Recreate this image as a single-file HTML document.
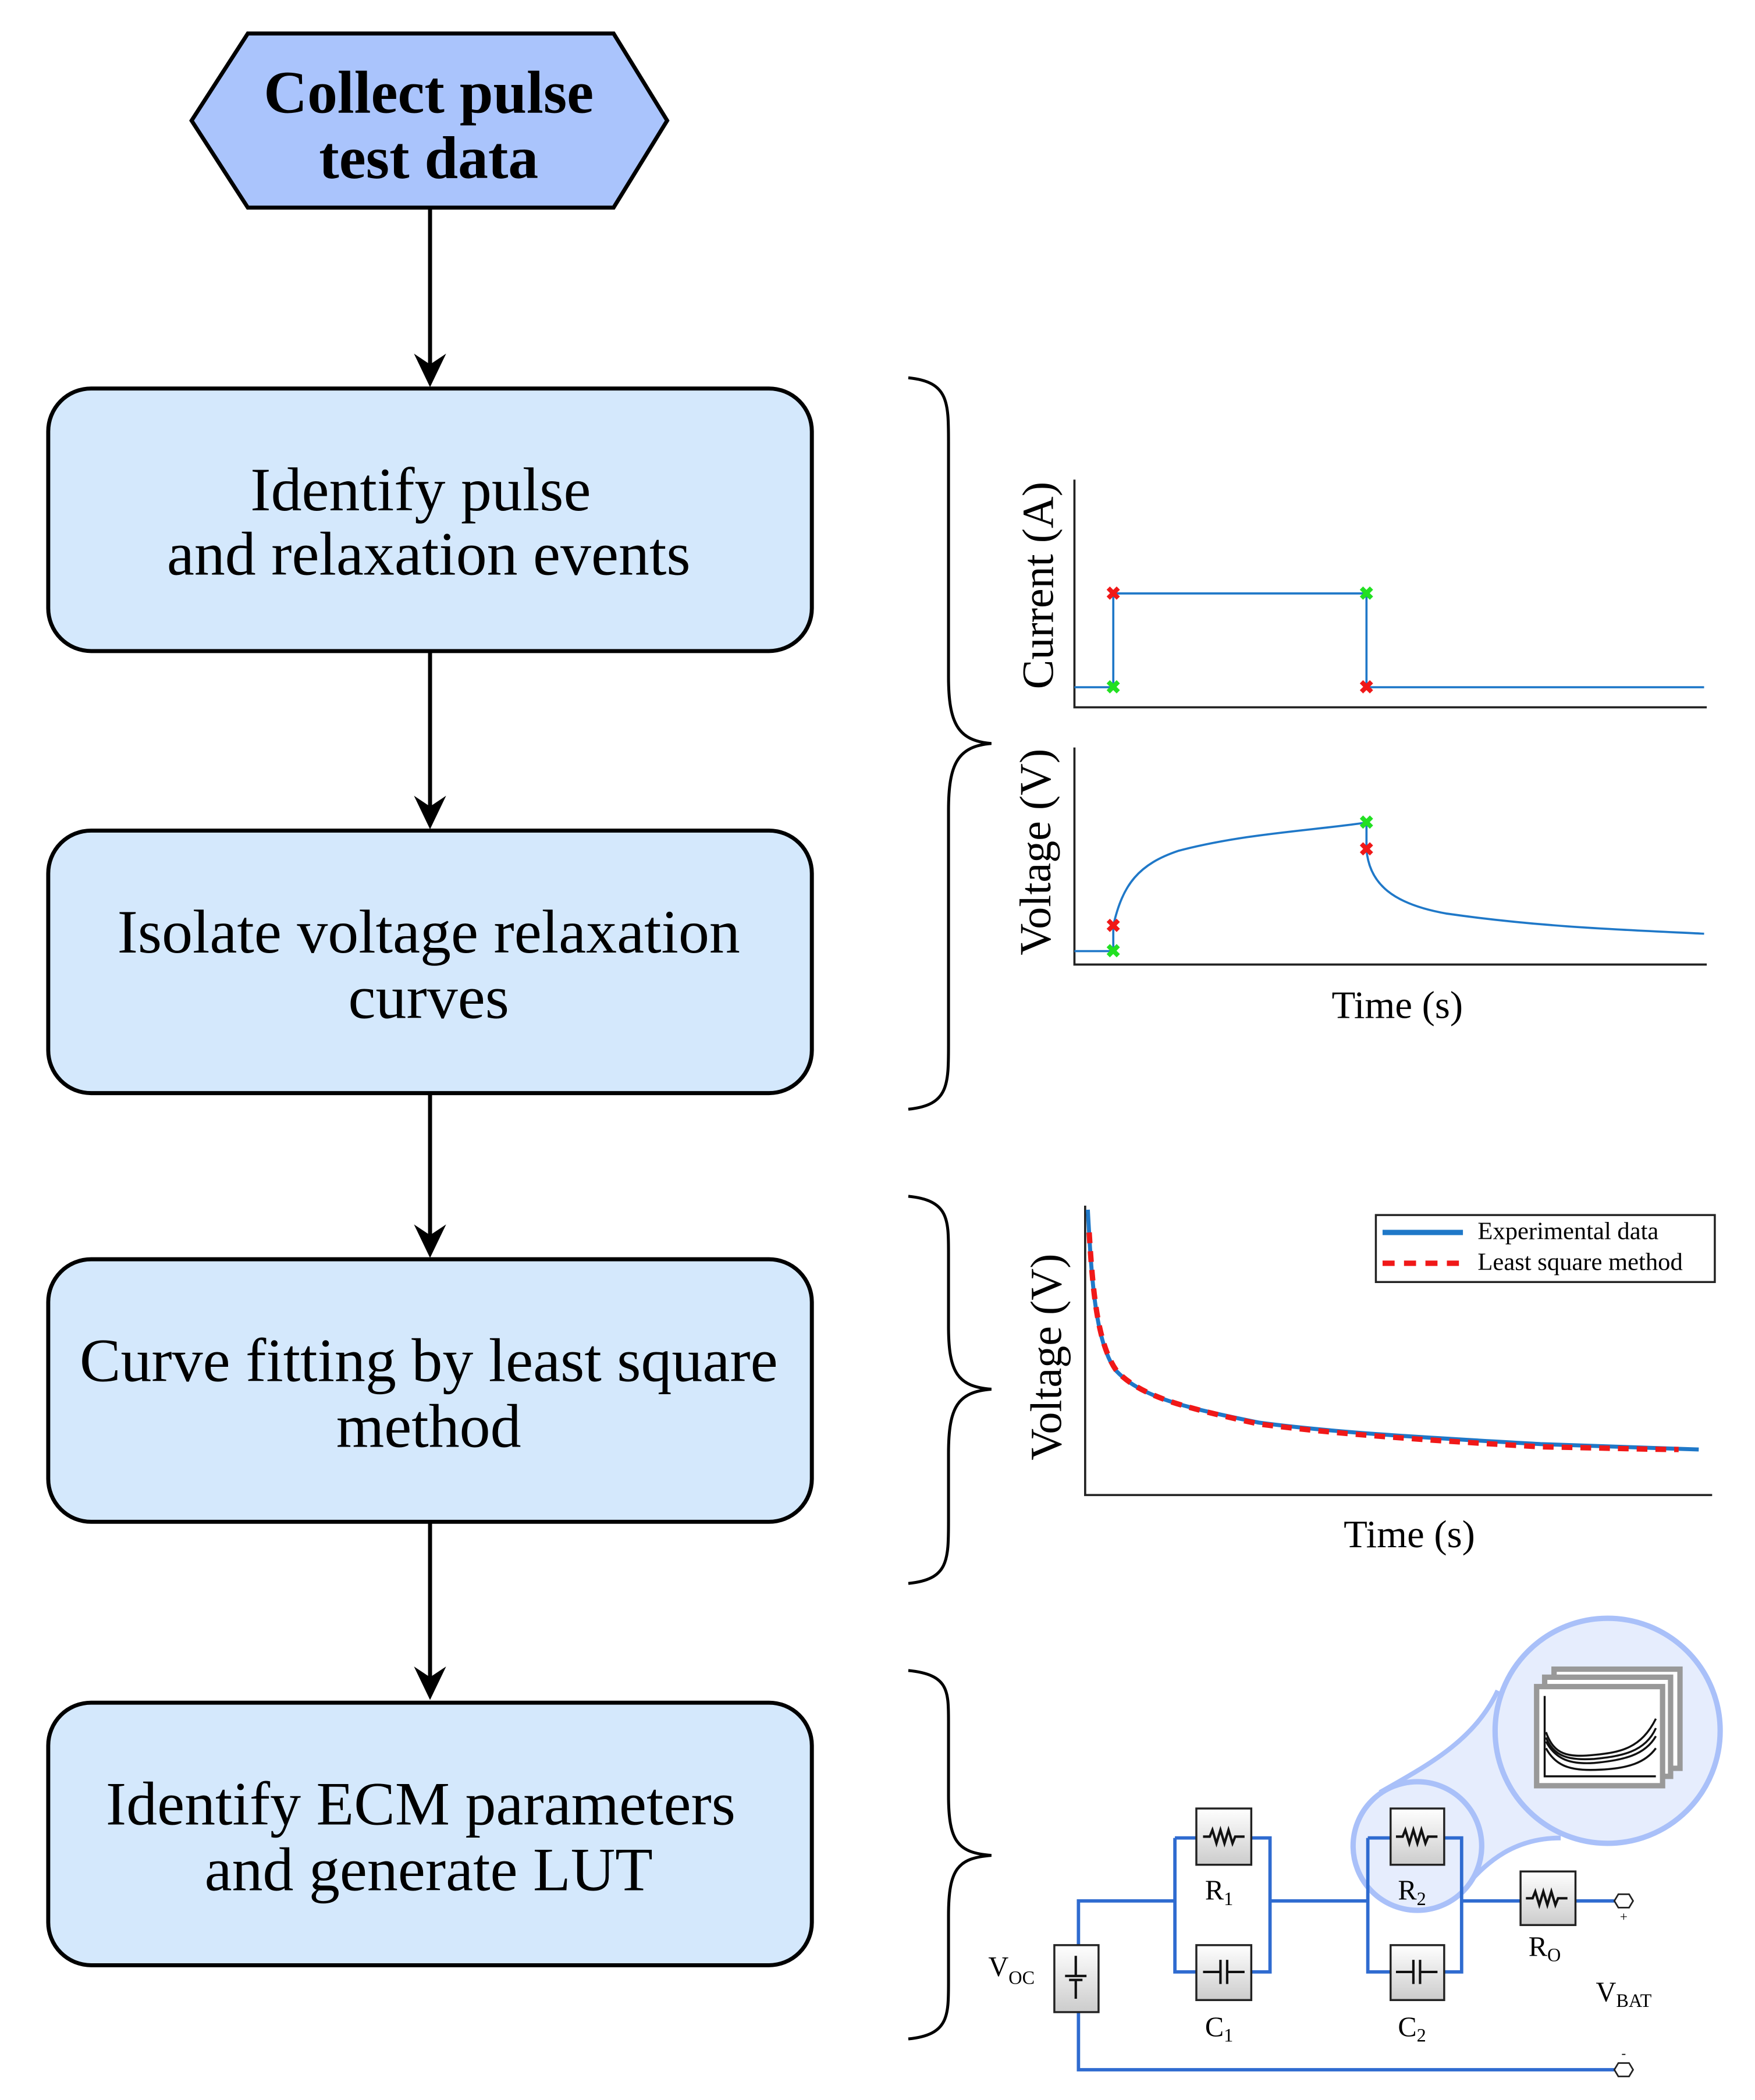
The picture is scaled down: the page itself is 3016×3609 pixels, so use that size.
<!DOCTYPE html>
<html><head><meta charset="utf-8"><style>
html,body{margin:0;padding:0;background:#fff}
svg{display:block}
text{font-family:"Liberation Serif",serif}
</style></head><body>
<svg width="3016" height="3609" viewBox="0 0 1310 1567.6" preserveAspectRatio="none" xmlns="http://www.w3.org/2000/svg">
<polygon points="143,90 185,25 458,25 498,90 458,155 185,155" fill="#aac4fc" stroke="#000" stroke-width="3"/>
<text x="320" y="84" font-size="45" font-weight="bold" text-anchor="middle">Collect pulse</text>
<text x="320" y="133" font-size="45" font-weight="bold" text-anchor="middle">test data</text>
<g stroke="#000" stroke-width="3">
<line x1="321" y1="155" x2="321" y2="280"/>
<line x1="321" y1="486" x2="321" y2="610"/>
<line x1="321" y1="816" x2="321" y2="930"/>
<line x1="321" y1="1136" x2="321" y2="1260"/>
</g>
<g fill="#000">
<path d="M321,289 L309,264 L321,272 L333,264 Z"/>
<path d="M321,619 L309,594 L321,602 L333,594 Z"/>
<path d="M321,939 L309,914 L321,922 L333,914 Z"/>
<path d="M321,1269 L309,1244 L321,1252 L333,1244 Z"/>
</g>
<g fill="#d4e8fc" stroke="#000" stroke-width="3">
<rect x="36" y="290" width="570" height="196" rx="32"/>
<rect x="36" y="620" width="570" height="196" rx="32"/>
<rect x="36" y="940" width="570" height="196" rx="32"/>
<rect x="36" y="1271" width="570" height="196" rx="32"/>
</g>
<g font-size="46" text-anchor="middle">
<text x="314" y="381">Identify pulse</text>
<text x="320" y="429">and relaxation events</text>
<text x="320" y="711">Isolate voltage relaxation</text>
<text x="320" y="760">curves</text>
<text x="320" y="1031">Curve fitting by least square</text>
<text x="320" y="1080">method</text>
<text x="314" y="1362">Identify ECM parameters</text>
<text x="320" y="1411">and generate LUT</text>
</g>
<g fill="none" stroke="#000" stroke-width="2.2">
<path d="M678,282 C708,285 708,300 708,330 L708,505 C708,540 715,553 740,555 C715,557 708,570 708,605 L708,780 C708,810 708,825 678,828"/>
<path d="M678,893 C708,896 708,910 708,935 L708,990 C708,1025 715,1035 740,1037 C715,1039 708,1050 708,1085 L708,1135 C708,1165 708,1179 678,1182"/>
<path d="M678,1247 C708,1250 708,1262 708,1285 L708,1340 C708,1375 715,1383 740,1385 C715,1387 708,1395 708,1430 L708,1480 C708,1505 708,1519 678,1522"/>
</g>
<g stroke="#222" stroke-width="1.6" fill="none">
<path d="M802,358 L802,528 L1274,528"/>
<path d="M802,558 L802,720 L1274,720"/>
<path d="M810,900 L810,1116 L1278,1116"/>
</g>
<path d="M802,513 L831,513 L831,443 L1020,443 L1020,513 L1272,513" fill="none" stroke="#1f78c8" stroke-width="1.6"/>
<path d="M802,710 L831,710 L831,691 C838,660 850,645 880,635 C930,622 980,620 1020,614 L1020,634 C1022,660 1040,675 1080,682 C1150,692 1210,694 1272,697" fill="none" stroke="#1f78c8" stroke-width="1.6"/>
<g font-size="14" font-weight="bold" text-anchor="middle" dominant-baseline="central">
<text x="831" y="513" fill="#22e022">✖</text>
<text x="1020" y="443" fill="#22e022">✖</text>
<text x="831" y="443" fill="#f01818">✖</text>
<text x="1020" y="513" fill="#f01818">✖</text>
<text x="831" y="710" fill="#22e022">✖</text>
<text x="1020" y="614" fill="#22e022">✖</text>
<text x="831" y="691" fill="#f01818">✖</text>
<text x="1020" y="634" fill="#f01818">✖</text>
</g>
<text transform="translate(786,437) rotate(-90)" font-size="33" text-anchor="middle">Current (A)</text>
<text transform="translate(784,636) rotate(-90)" font-size="33" text-anchor="middle">Voltage (V)</text>
<text x="1043" y="760" font-size="29" text-anchor="middle">Time (s)</text>
<path d="M812,903 C815,960 818,1000 832,1022 C850,1042 880,1050 940,1062 C1000,1070 1080,1074 1150,1078 C1200,1080 1240,1081 1268,1082" fill="none" stroke="#1f78c8" stroke-width="3"/>
<path d="M813,920 C816,970 820,1005 834,1024 C852,1042 880,1050 940,1063 C1000,1071 1080,1076 1150,1080 C1200,1081 1235,1082 1253,1082" fill="none" stroke="#f01818" stroke-width="4" stroke-dasharray="8,6"/>
<rect x="1027" y="907" width="253" height="50" fill="#fff" stroke="#222" stroke-width="1.5"/>
<line x1="1032" y1="920" x2="1092" y2="920" stroke="#1f78c8" stroke-width="4"/>
<line x1="1032" y1="943" x2="1092" y2="943" stroke="#f01818" stroke-width="4" stroke-dasharray="9,7"/>
<text x="1103" y="925" font-size="18.5">Experimental data</text>
<text x="1103" y="948" font-size="18.5">Least square method</text>
<text transform="translate(792,1013) rotate(-90)" font-size="33" text-anchor="middle">Voltage (V)</text>
<text x="1052" y="1155" font-size="29" text-anchor="middle">Time (s)</text>
<path d="M1030,1338 C1065,1318 1100,1300 1118,1262 L1165,1372 C1130,1372 1110,1390 1095,1407 Z" fill="#e6edfd"/>
<path d="M1030,1338 C1065,1318 1100,1300 1118,1262 M1095,1407 C1110,1390 1130,1372 1165,1372" fill="none" stroke="#a9c0f9" stroke-width="3.5"/>
<circle cx="1200" cy="1292" r="84" fill="#e6edfd" stroke="#a9c0f9" stroke-width="4"/>
<circle cx="1058" cy="1378" r="48" fill="#e6edfd" stroke="#a9c0f9" stroke-width="4"/>
<g fill="#fff" stroke="#999" stroke-width="4">
<rect x="1160" y="1246" width="94" height="74"/>
<rect x="1153" y="1252" width="94" height="74"/>
<rect x="1147" y="1259" width="94" height="74"/>
</g>
<g fill="none" stroke="#111" stroke-width="1.5">
<path d="M1153,1266 L1153,1326 L1236,1326"/>
<path d="M1154,1293 C1160,1310 1170,1312 1190,1310 C1210,1308 1225,1305 1236,1283"/>
<path d="M1154,1297 C1160,1312 1172,1314 1190,1313 C1210,1311 1228,1308 1236,1290"/>
<path d="M1154,1300 C1162,1315 1175,1317 1190,1316 C1212,1314 1228,1310 1236,1296"/>
<path d="M1154,1305 C1162,1320 1175,1322 1195,1321 C1215,1320 1228,1316 1236,1305"/>
</g>
<g fill="none" stroke="#2f6bd0" stroke-width="2.5">
<path d="M805,1452 L805,1419 L877,1419"/>
<path d="M877,1372 L877,1472 L893,1472 M877,1372 L893,1372 M934,1372 L948,1372 L948,1472 L934,1472"/>
<path d="M948,1419 L1021,1419"/>
<path d="M1021,1372 L1021,1472 L1038,1472 M1021,1372 L1038,1372 M1078,1372 L1091,1372 L1091,1472 L1078,1472"/>
<path d="M1091,1419 L1135,1419 M1176,1419 L1205,1419"/>
<path d="M805,1502 L805,1545 L1205,1545"/>
</g>
<defs><linearGradient id="bg" x1="0" y1="0" x2="0" y2="1"><stop offset="0" stop-color="#fff"/><stop offset="1" stop-color="#ccc"/></linearGradient></defs>
<g fill="url(#bg)" stroke="#222" stroke-width="1.5">
<rect x="787" y="1452" width="33" height="50"/>
<rect x="893" y="1350" width="41" height="42"/>
<rect x="893" y="1452" width="41" height="41"/>
<rect x="1038" y="1350" width="40" height="42"/>
<rect x="1038" y="1452" width="40" height="41"/>
<rect x="1135" y="1397" width="41" height="40"/>
</g>
<g fill="none" stroke="#111" stroke-width="1.8">
<path d="M898,1371 L903,1371 L905,1366 L908,1376 L911,1366 L914,1376 L917,1366 L920,1376 L922,1371 L929,1371"/>
<path d="M1042,1371 L1047,1371 L1049,1366 L1052,1376 L1055,1366 L1058,1376 L1061,1366 L1064,1376 L1066,1371 L1073,1371"/>
<path d="M1139,1417 L1144,1417 L1146,1412 L1149,1422 L1152,1412 L1155,1422 L1158,1412 L1161,1422 L1163,1417 L1170,1417"/>
<path d="M898,1472 L911,1472 M911,1463 L911,1481 M916,1463 L916,1481 M916,1472 L929,1472"/>
<path d="M1042,1472 L1055,1472 M1055,1463 L1055,1481 M1060,1463 L1060,1481 M1060,1472 L1073,1472"/>
<path d="M803,1460 L803,1475 M795,1475 L811,1475 M798,1478 L808,1478 M803,1478 L803,1492"/>
</g>
<g fill="#fff" stroke="#222" stroke-width="1.2">
<polygon points="1205,1419 1208,1414 1216,1414 1219,1419 1216,1424 1208,1424"/>
<polygon points="1205,1545 1208,1540 1216,1540 1219,1545 1216,1550 1208,1550"/>
</g>
<text x="1212" y="1434" font-size="10" text-anchor="middle">+</text>
<text x="1212" y="1536" font-size="10" text-anchor="middle">-</text>
<g font-size="21" text-anchor="middle">
<text x="910" y="1418">R<tspan font-size="14" dy="4">1</tspan></text>
<text x="910" y="1520">C<tspan font-size="14" dy="4">1</tspan></text>
<text x="1054" y="1418">R<tspan font-size="14" dy="4">2</tspan></text>
<text x="1054" y="1520">C<tspan font-size="14" dy="4">2</tspan></text>
<text x="1153" y="1460">R<tspan font-size="14" dy="4">O</tspan></text>
<text x="755" y="1475">V<tspan font-size="14" dy="6">OC</tspan></text>
<text x="1212" y="1494">V<tspan font-size="14" dy="4">BAT</tspan></text>
</g>
</svg>
</body></html>
